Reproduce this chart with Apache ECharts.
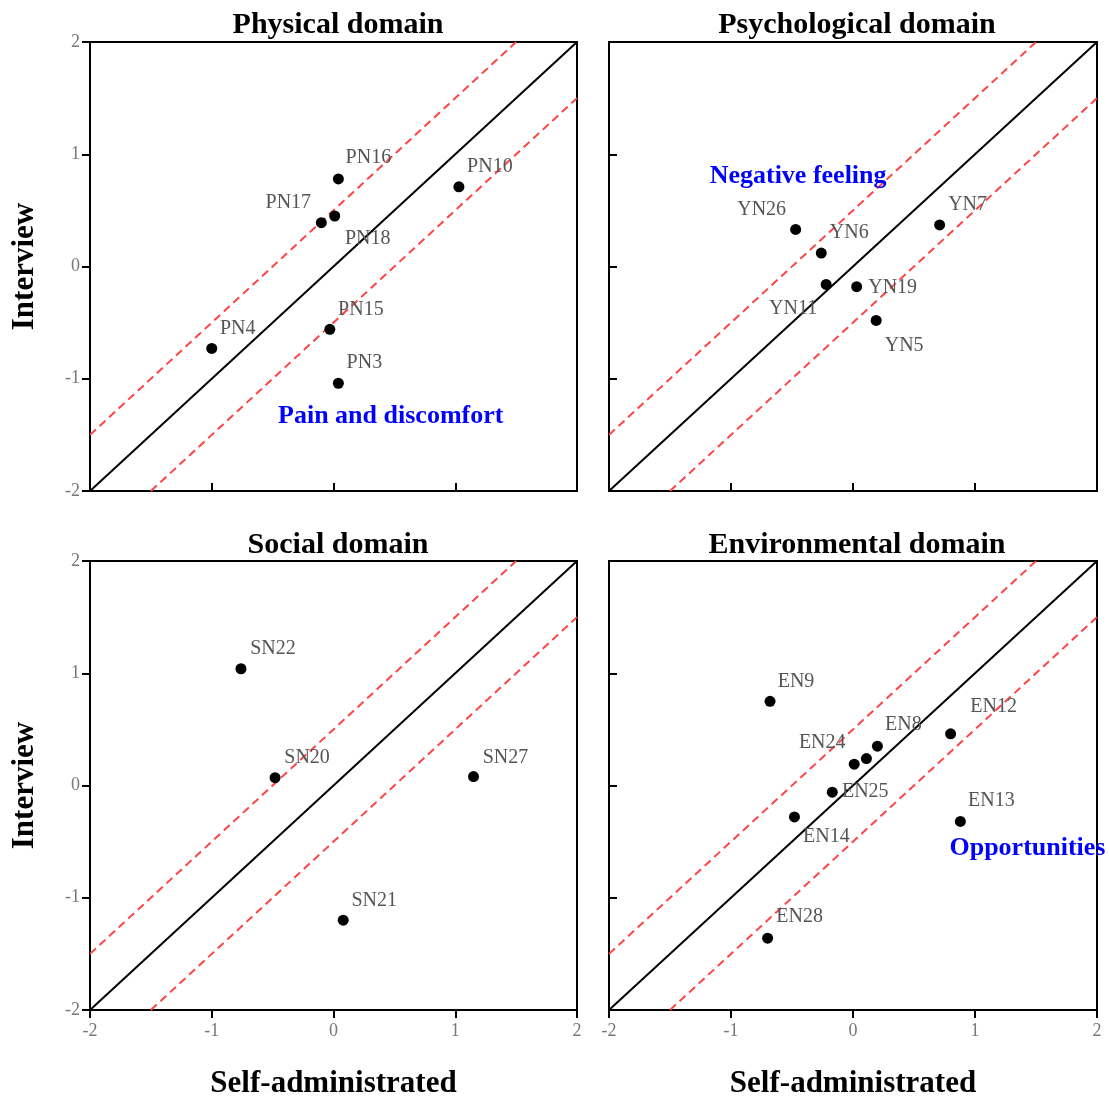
<!DOCTYPE html>
<html><head><meta charset="utf-8">
<script src="https://cdn.jsdelivr.net/npm/echarts@6/dist/echarts.min.js"></script>
<style>html,body{margin:0;padding:0;background:#fff}#c{width:1109px;height:1101px}</style>
</head><body><div id="c"></div>
<script>
// ---- data ----
const panelTitles = ['Physical domain', 'Psychological domain', 'Social domain', 'Environmental domain'];
const axisTicks = [-2, -1, 0, 1, 2];

const physicalNames = ['PN16', 'PN10', 'PN17', 'PN18', 'PN4', 'PN15', 'PN3'];
const physicalSelf = [0.04, 1.03, -0.10, 0.01, -1.00, -0.03, 0.04];
const physicalInterview = [0.78, 0.71, 0.39, 0.45, -0.73, -0.56, -1.04];

const psychNames = ['YN26', 'YN6', 'YN7', 'YN11', 'YN19', 'YN5'];
const psychSelf = [-0.47, -0.26, 0.71, -0.22, 0.03, 0.19];
const psychInterview = [0.33, 0.12, 0.37, -0.16, -0.18, -0.48];

const socialNames = ['SN22', 'SN20', 'SN27', 'SN21'];
const socialSelf = [-0.76, -0.48, 1.15, 0.08];
const socialInterview = [1.04, 0.07, 0.08, -1.20];

const envNames = ['EN9', 'EN12', 'EN8', '', 'EN24', 'EN25', 'EN14', 'EN13', 'EN28'];
const envSelf = [-0.68, 0.80, 0.20, 0.11, 0.01, -0.17, -0.48, 0.88, -0.70];
const envInterview = [0.75, 0.46, 0.35, 0.24, 0.19, -0.06, -0.28, -0.32, -1.36];

const annotationTexts = ['Pain and discomfort', 'Negative feeling', null, 'Opportunities'];
const annotationSelf = [0.47, -0.45, null, 1.43];
const annotationInterview = [-1.33, 0.80, null, -0.56];

const identityLine = [[-2, -2], [2, 2]];
const upperBand = [[-2, -1.5], [1.5, 2]];
const lowerBand = [[-1.5, -2], [2, 1.5]];

// label offsets (pixels) - styling only
const labelOffsets = [
  [[30,-21],[31,-20],[-33,-20],[33,23],[26,-20],[31,-20],[26,-20]],
  [[-34,-20],[28,-20],[28,-20],[-33,24],[36,1],[28,25]],
  [[32,-20],[32,-20],[32,-19],[31,-19]],
  [[26,-20],[43,-27],[26,-21],[0,0],[-32,-21],[33,0],[32,20],[31,-21],[32,-21]]
];

// ---- build ----
const FONT = 'Liberation Serif';
const panels = [
  [physicalNames, physicalSelf, physicalInterview],
  [psychNames, psychSelf, psychInterview],
  [socialNames, socialSelf, socialInterview],
  [envNames, envSelf, envInterview]
];
const grids = [
  {left: 90, top: 42, width: 487, height: 449},
  {left: 609, top: 42, width: 488, height: 449},
  {left: 90, top: 561, width: 487, height: 449},
  {left: 609, top: 561, width: 488, height: 449}
];
const titleCenters = [[333, 5], [852, 5], [333, 525], [852, 525]];

const option = {
  backgroundColor: '#fff',
  animation: false,
  textStyle: {fontFamily: FONT},
  title: panelTitles.map((t, i) => ({
    text: t, left: titleCenters[i][0], top: titleCenters[i][1], textAlign: 'center',
    textStyle: {fontFamily: FONT, fontWeight: 'bold', fontSize: 30, color: '#000'}
  })),
  grid: grids.map(g => Object.assign({show: true, borderColor: '#000', borderWidth: 2, backgroundColor: 'transparent'}, g)),
  xAxis: grids.map((g, i) => ({
    gridIndex: i, type: 'value', min: axisTicks[0], max: axisTicks[axisTicks.length - 1], interval: 1,
    name: i >= 2 ? 'Self-administrated' : '', nameLocation: 'middle', nameGap: 58,
    nameTextStyle: {fontFamily: FONT, fontWeight: 'bold', fontSize: 31, color: '#000'},
    axisLine: {onZero: false, lineStyle: {color: '#000', width: 2}},
    axisTick: {show: true, inside: i < 2, length: 8, lineStyle: {color: '#000', width: 2}},
    axisLabel: {show: i >= 2, fontFamily: FONT, fontSize: 18, color: '#777', margin: 12},
    splitLine: {show: false}
  })),
  yAxis: grids.map((g, i) => ({
    gridIndex: i, type: 'value', min: axisTicks[0], max: axisTicks[axisTicks.length - 1], interval: 1,
    name: i % 2 === 0 ? 'Interview' : '', nameLocation: 'middle', nameGap: 50,
    nameTextStyle: {fontFamily: FONT, fontWeight: 'bold', fontSize: 31, color: '#000'},
    axisLine: {onZero: false, lineStyle: {color: '#000', width: 2}},
    axisTick: {show: true, inside: i % 2 === 1, length: 8, lineStyle: {color: '#000', width: 2}},
    axisLabel: {show: i % 2 === 0, fontFamily: FONT, fontSize: 18, color: '#777', margin: 10},
    splitLine: {show: false}
  })),
  series: []
};

panels.forEach((p, i) => {
  const [names, xs, ys] = p;
  option.series.push({
    type: 'line', xAxisIndex: i, yAxisIndex: i, data: identityLine, symbol: 'none',
    lineStyle: {color: '#000', width: 2}, silent: true, z: 2
  });
  [upperBand, lowerBand].forEach(b => option.series.push({
    type: 'line', xAxisIndex: i, yAxisIndex: i, data: b, symbol: 'none',
    lineStyle: {color: '#ff4444', width: 2, type: [8, 5]}, silent: true, z: 2
  }));
  option.series.push({
    type: 'scatter', xAxisIndex: i, yAxisIndex: i, symbolSize: 11, z: 5,
    itemStyle: {color: '#000', opacity: 1},
    data: names.map((n, k) => ({
      name: n, value: [xs[k], ys[k]],
      label: {show: n !== '', position: 'inside', offset: labelOffsets[i][k], formatter: n,
        fontFamily: FONT, fontSize: 20, color: '#555'}
    }))
  });
  if (annotationTexts[i]) {
    option.series.push({
      type: 'scatter', xAxisIndex: i, yAxisIndex: i, symbolSize: 0, z: 6, clip: false,
      itemStyle: {opacity: 1},
      data: [{name: annotationTexts[i], value: [annotationSelf[i], annotationInterview[i]]}],
      label: {show: true, position: 'inside', formatter: '{b}', fontFamily: FONT,
        fontWeight: 'bold', fontSize: 26, color: '#0000ff'}
    });
  }
});

const chart = echarts.init(document.getElementById('c'), null, {renderer: 'canvas'});
chart.setOption(option);
</script></body></html>
